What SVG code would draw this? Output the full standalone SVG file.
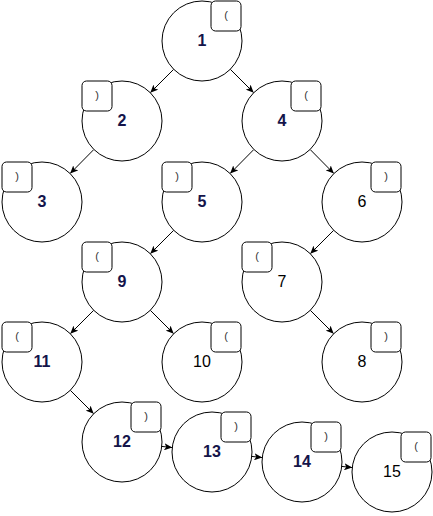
<svg xmlns="http://www.w3.org/2000/svg" width="433" height="516" viewBox="0 0 433 516">
<style>
.c{fill:#fff;stroke:#000;stroke-width:1}
.b{fill:#fff;stroke:#000;stroke-width:1}
.e{fill:none;stroke:#000;stroke-width:1}
.lb{font-family:"Liberation Sans",Arial,sans-serif;font-size:16px;font-weight:bold;fill:#14144a;text-anchor:middle}
.ln{font-family:"Liberation Sans",Arial,sans-serif;font-size:16px;fill:#000;text-anchor:middle}
.p{font-family:"Liberation Sans",Arial,sans-serif;font-size:11px;fill:#333;text-anchor:middle}
</style>
<defs>
<marker id="a" markerUnits="userSpaceOnUse" markerWidth="8" markerHeight="7" refX="8" refY="3.5" orient="auto" viewBox="0 0 8 7">
<path d="M0,0 L8,3.5 L0,7 L2,3.5 Z" fill="#000"/>
</marker>
</defs>
<rect width="433" height="516" fill="#fff"/>
<g id="connectors">
<line class="e" marker-end="url(#a)" x1="173.72" y1="69.28" x2="150.28" y2="92.72"/>
<line class="e" marker-end="url(#a)" x1="230.28" y1="69.28" x2="253.72" y2="92.72"/>
<line class="e" marker-end="url(#a)" x1="93.89" y1="149.46" x2="70.11" y2="173.54"/>
<line class="e" marker-end="url(#a)" x1="253.89" y1="149.46" x2="230.11" y2="173.54"/>
<line class="e" marker-end="url(#a)" x1="310.11" y1="149.46" x2="333.89" y2="173.54"/>
<line class="e" marker-end="url(#a)" x1="173.72" y1="230.28" x2="150.28" y2="253.72"/>
<line class="e" marker-end="url(#a)" x1="333.72" y1="230.28" x2="310.28" y2="253.72"/>
<line class="e" marker-end="url(#a)" x1="93.72" y1="310.28" x2="70.28" y2="333.72"/>
<line class="e" marker-end="url(#a)" x1="150.28" y1="310.28" x2="173.72" y2="333.72"/>
<line class="e" marker-end="url(#a)" x1="310.28" y1="310.28" x2="333.72" y2="333.72"/>
<line class="e" marker-end="url(#a)" x1="70.28" y1="390.28" x2="93.72" y2="413.72"/>
<line class="e" marker-end="url(#a)" x1="161.76" y1="446.42" x2="172.24" y2="447.58"/>
<line class="e" marker-end="url(#a)" x1="251.76" y1="456.42" x2="262.24" y2="457.58"/>
<line class="e" marker-end="url(#a)" x1="341.76" y1="466.42" x2="352.24" y2="467.58"/>
</g>
<g id="n1"><circle class="c" cx="202" cy="41" r="40"/><rect class="b" x="211" y="1" width="30" height="30" rx="4.5"/><text class="p" x="226" y="19">(</text><text class="lb" x="202" y="45.5">1</text></g>
<g id="n2"><circle class="c" cx="122" cy="121" r="40"/><rect class="b" x="82" y="81" width="30" height="30" rx="4.5"/><text class="p" x="97" y="99">)</text><text class="lb" x="122" y="125.5">2</text></g>
<g id="n4"><circle class="c" cx="282" cy="121" r="40"/><rect class="b" x="291" y="81" width="30" height="30" rx="4.5"/><text class="p" x="306" y="99">(</text><text class="lb" x="282" y="125.5">4</text></g>
<g id="n3"><circle class="c" cx="42" cy="202" r="40"/><rect class="b" x="2" y="162" width="30" height="30" rx="4.5"/><text class="p" x="17" y="180">)</text><text class="lb" x="42" y="206.5">3</text></g>
<g id="n5"><circle class="c" cx="202" cy="202" r="40"/><rect class="b" x="162" y="162" width="30" height="30" rx="4.5"/><text class="p" x="177" y="180">)</text><text class="lb" x="202" y="206.5">5</text></g>
<g id="n6"><circle class="c" cx="362" cy="202" r="40"/><rect class="b" x="371" y="162" width="30" height="30" rx="4.5"/><text class="p" x="386" y="180">)</text><text class="ln" x="362" y="206.5">6</text></g>
<g id="n9"><circle class="c" cx="122" cy="282" r="40"/><rect class="b" x="82" y="242" width="30" height="30" rx="4.5"/><text class="p" x="97" y="260">(</text><text class="lb" x="122" y="286.5">9</text></g>
<g id="n7"><circle class="c" cx="282" cy="282" r="40"/><rect class="b" x="242" y="242" width="30" height="30" rx="4.5"/><text class="p" x="257" y="260">(</text><text class="ln" x="282" y="286.5">7</text></g>
<g id="n11"><circle class="c" cx="42" cy="362" r="40"/><rect class="b" x="2" y="322" width="30" height="30" rx="4.5"/><text class="p" x="17" y="340">(</text><text class="lb" x="42" y="366.5">11</text></g>
<g id="n10"><circle class="c" cx="202" cy="362" r="40"/><rect class="b" x="211" y="322" width="30" height="30" rx="4.5"/><text class="p" x="226" y="340">(</text><text class="ln" x="202" y="366.5">10</text></g>
<g id="n8"><circle class="c" cx="362" cy="362" r="40"/><rect class="b" x="371" y="322" width="30" height="30" rx="4.5"/><text class="p" x="386" y="340">)</text><text class="ln" x="362" y="366.5">8</text></g>
<g id="n12"><circle class="c" cx="122" cy="442" r="40"/><rect class="b" x="131" y="402" width="30" height="30" rx="4.5"/><text class="p" x="146" y="420">)</text><text class="lb" x="122" y="446.5">12</text></g>
<g id="n13"><circle class="c" cx="212" cy="452" r="40"/><rect class="b" x="221" y="412" width="30" height="30" rx="4.5"/><text class="p" x="236" y="430">)</text><text class="lb" x="212" y="456.5">13</text></g>
<g id="n14"><circle class="c" cx="302" cy="462" r="40"/><rect class="b" x="311" y="422" width="30" height="30" rx="4.5"/><text class="p" x="326" y="440">)</text><text class="lb" x="302" y="466.5">14</text></g>
<g id="n15"><circle class="c" cx="392" cy="472" r="40"/><rect class="b" x="401" y="432" width="30" height="30" rx="4.5"/><text class="p" x="416" y="450">(</text><text class="ln" x="392" y="476.5">15</text></g>
</svg>
